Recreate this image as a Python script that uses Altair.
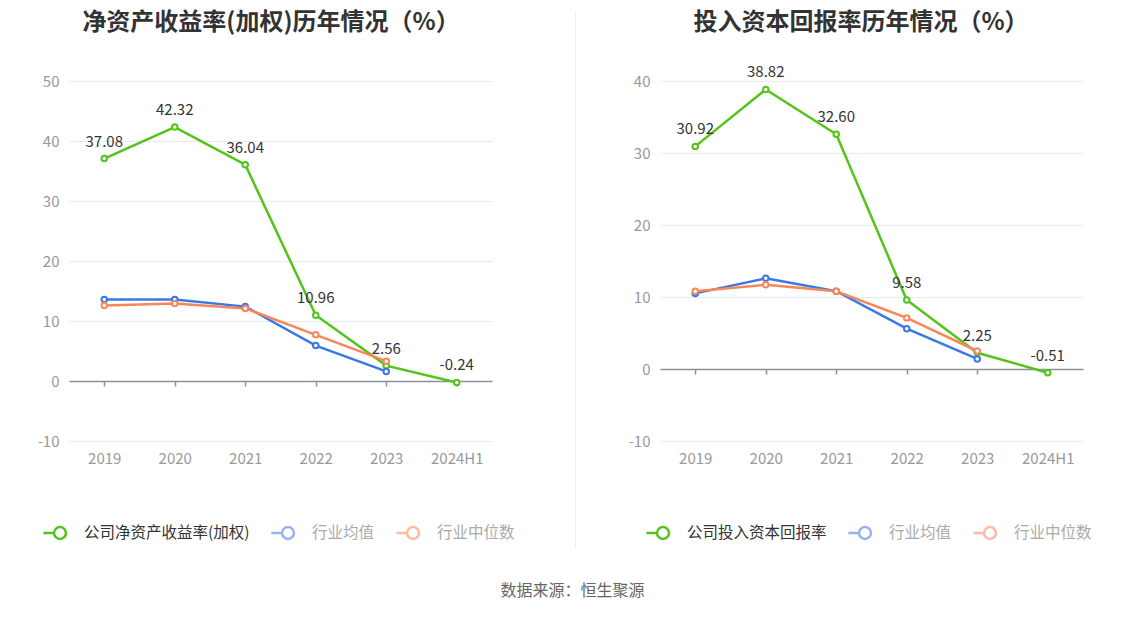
import altair as alt
import pandas as pd

years = ["2019", "2020", "2021", "2022", "2023", "2024H1"]

roe_company = [37.08, 42.32, 36.04, 10.96, 2.56, -0.24]
roe_avg = [13.6, 13.6, 12.4, 5.9, 1.6, None]
roe_median = [12.6, 12.9, 12.1, 7.7, 3.3, None]

roic_company = [30.92, 38.82, 32.60, 9.58, 2.25, -0.51]
roic_avg = [10.5, 12.6, 10.8, 5.6, 1.4, None]
roic_median = [10.8, 11.7, 10.8, 7.1, 2.5, None]

left_names = ["公司净资产收益率(加权)", "行业均值", "行业中位数"]
right_names = ["公司投入资本回报率", "行业均值", "行业中位数"]
colors = ["#52c41a", "#3b78e7", "#f7875a"]

FONT = "Noto Sans CJK SC"
SYMBOL = "M-1,0L-0.36,0M0.36,0A0.36,0.36,0,1,1,-0.36,0A0.36,0.36,0,1,1,0.36,0"


def long_df(names, series):
    rows = []
    for name, vals in zip(names, series):
        for y, v in zip(years, vals):
            if v is not None:
                rows.append({"year": y, "series": name, "value": v,
                             "label": f"{v:.2f}"})
    return pd.DataFrame(rows)


def panel(names, series, title, ymin, ymax, x_offset, legend_x, title_x):
    df = long_df(names, series)
    yscale = alt.Scale(domain=[ymin, ymax], nice=False, zero=False)
    yvals = list(range(ymin, ymax + 1, 10))
    xenc = alt.X("year:N", sort=years, scale=alt.Scale(type="point", padding=0.5),
                 axis=alt.Axis(title=None, labelAngle=0, labelFontSize=15,
                               labelColor="#999999", labelFont=FONT,
                               domainColor="#8c8f9c", domainWidth=1.5,
                               tickColor="#8c8f9c", tickSize=5, tickWidth=1.5,
                               offset=x_offset, labelPadding=-x_offset + 5,
                               grid=False))
    yenc = alt.Y("value:Q", scale=yscale,
                 axis=alt.Axis(title=None, values=yvals, labelFontSize=15,
                               labelColor="#999999", labelFont=FONT,
                               labelExpr="datum.value < 0 ? '-' + abs(datum.value) : datum.label",
                               domain=False, ticks=False, labelPadding=10,
                               gridColor="#e6eaf2", gridWidth=1,
                               minExtent=40, maxExtent=40))
    cscale = alt.Scale(domain=names, range=colors)
    base = alt.Chart(df)
    lines = base.mark_line(strokeWidth=2.5).encode(
        x=xenc, y=yenc,
        color=alt.Color("series:N", scale=cscale, sort=names,
                        legend=alt.Legend(
                            title=None, orient="none", direction="horizontal",
                            legendX=legend_x, legendY=434,
                            symbolType=SYMBOL, symbolSize=1100,
                            symbolStrokeWidth=2.5, symbolFillColor="white",
                            symbolOpacity=alt.ExprRef(
                                f"datum.label === '{names[0]}' ? 1 : 0.55"),
                            labelColor=alt.ExprRef(
                                f"datum.label === '{names[0]}' ? '#333333' : '#aaaaaa'"),
                            labelFontSize=15.5, labelFont=FONT, labelOffset=6,
                            columnPadding=16, labelLimit=300)),
        detail="series:N",
    )
    pts = base.mark_point(filled=True, fill="white", strokeWidth=2, size=30, opacity=1).encode(
        x=xenc, y=yenc,
        stroke=alt.Stroke("series:N", scale=cscale, legend=None),
    )
    labels = base.transform_filter(alt.datum.series == names[0]).mark_text(
        baseline="bottom", dy=-9, fontSize=15, color="#333333", font=FONT
    ).encode(x=xenc, y=yenc, text="label:N")
    head = alt.Chart(pd.DataFrame({"t": [title]})).mark_text(
        fontSize=24, fontWeight="bold", color="#333333", font=FONT,
        align="center", baseline="middle"
    ).encode(text="t:N", x=alt.value(title_x), y=alt.value(-58))
    return alt.layer(lines, pts, labels, head).properties(width=423, height=360)


left = panel(left_names, [roe_company, roe_avg, roe_median],
             "净资产收益率(加权)历年情况（%）", -10, 50, -60, -27, 202)
right = panel(right_names, [roic_company, roic_avg, roic_median],
              "投入资本回报率历年情况（%）", -10, 40, -72, -15, 201)

divider = alt.Chart(pd.DataFrame({"a": [0]})).mark_rule(
    color="#eeeeee", strokeWidth=1).encode(
    x=alt.value(0), y=alt.value(-70), y2=alt.value(467)
).properties(width=1, height=360)

chart = alt.hconcat(left, divider, right, spacing=83.5, bounds="flush").resolve_scale(
    color="independent", stroke="independent", y="independent", x="independent"
).resolve_legend(color="independent", stroke="independent").properties(
    title=alt.TitleParams("数据来源：恒生聚源", orient="bottom", anchor="middle",
                          fontSize=16, fontWeight="normal", color="#666666",
                          font=FONT, offset=34, dx=12),
    padding={"left": 21, "top": 2, "right": 5, "bottom": 5},
    background="white",
).configure_view(stroke="transparent", strokeWidth=0)

chart.save("out.html", embed_options={"renderer": "svg", "actions": False})
